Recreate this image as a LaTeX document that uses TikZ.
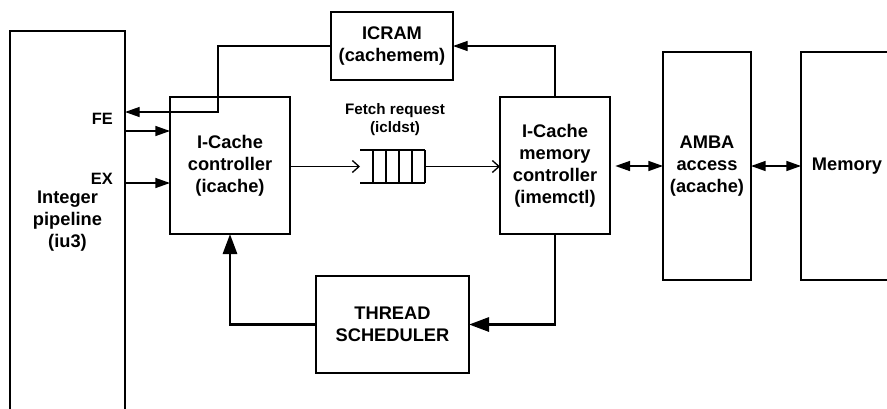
\documentclass[tikz,border=0pt]{standalone}
\usepackage{fontspec}
\setmainfont{Liberation Sans}
\usetikzlibrary{arrows.meta}

\tikzset{
  unit/.style={draw, line width=2.2pt, inner sep=0pt, outer sep=0pt, align=center,
    font=\fontsize{13.7}{16.5}\selectfont\bfseries},
  thin unit/.style={unit, line width=1.5pt},
  sig/.style={inner sep=0pt, font=\fontsize{12.3}{14}\selectfont\bfseries},
  small label/.style={inner sep=0pt, align=center, font=\fontsize{11.4}{13.5}\selectfont\bfseries},
  thin link/.style={line width=1pt, -{Triangle[length=11pt,width=7.5pt]}},
  thick link/.style={line width=2.2pt, -{Triangle[length=15pt,width=10.5pt]}},
  both link/.style={line width=1.1pt, {Triangle[length=11pt,width=7.5pt]}-{Triangle[length=11pt,width=7.5pt]}},
  barb link/.style={line width=1pt, -{Straight Barb[length=5pt,width=9pt]}},
  cell/.style={line width=0.8pt}
}

\begin{document}
\begin{tikzpicture}[x=0.75pt, y=-0.75pt]

    % Page
    \clip (0,0) rectangle (887,408);

    % Units
    \node[unit, minimum width=86.25pt, minimum height=285pt] (iu) at (67.5,221) {Integer\\pipeline\\(iu3)};
    \node[unit, minimum width=90pt, minimum height=102.75pt] (icache) at (230,165.5) {I-Cache\\controller\\(icache)};
    \node[unit, minimum width=82.5pt, minimum height=102.75pt] (imemctl) at (555,165.5) {I-Cache\\memory\\controller\\(imemctl)};
    \node[thin unit, minimum width=91.5pt, minimum height=51pt] (icram) at (392,46) {ICRAM\\(cachemem)};
    \node[unit, minimum width=114.75pt, minimum height=72.75pt] (thread) at (392.5,324.5) {THREAD\\SCHEDULER};
    \node[unit, minimum width=66pt, minimum height=171pt] (amba) at (707,166) {AMBA\\access\\(acache)};
    \node[unit, minimum width=69pt, minimum height=171pt] (memory) at (847,166) {Memory};

    % Request queue
    \node[inner sep=0pt, outer sep=0pt, minimum width=48.75pt, minimum height=24.75pt] (queue) at (392.5,166.5) {};
    \draw[cell] (queue.north west) -- (queue.north east);
    \draw[cell] (queue.south west) -- (queue.south east);
    \foreach \qx in {373,386,399,412,425} {
        \draw[cell] (\qx,150) -- (\qx,183);
    }
    \node[small label] (fetch) at (395,120) {Fetch request\\(icldst)};

    % Pipeline ports
    \node[sig, anchor=east] (fe) at (113,118.5) {FE};
    \node[sig, anchor=east] (ex) at (113,179) {EX};
    \coordinate (fein) at (218,112);

    % Connections
    \draw[thin link] (icram.west) -| (fein) -- (fein -| iu.east);
    \draw[thin link] (iu.east |- 0,131) -- (icache.west |- 0,131);
    \draw[thin link] (iu.east |- 0,183) -- (icache.west |- 0,183);
    \draw[barb link] (icache.east |- queue.west) -- (queue.west);
    \draw[barb link] (queue.east) -- (imemctl.west |- queue.east);
    \draw[thin link] (imemctl.north) |- (icram.east);
    \draw[thick link] (imemctl.south) |- (thread.east);
    \draw[thick link] (thread.west) -| (icache.south);
    \draw[both link, shorten <=4pt] (imemctl.east |- amba.west) -- (amba.west);
    \draw[both link] (amba.east) -- (memory.west);

\end{tikzpicture}
\end{document}
